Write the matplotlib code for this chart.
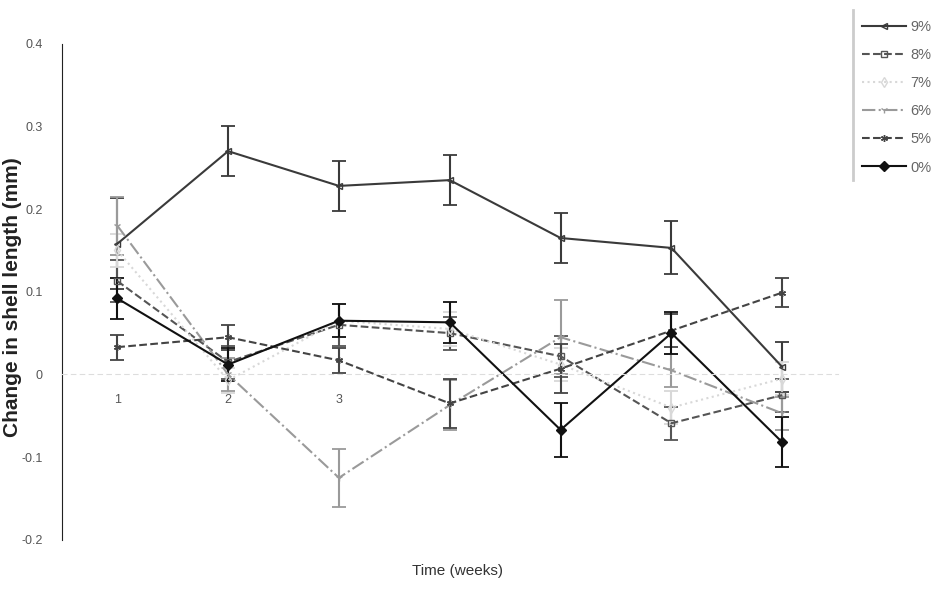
import numpy as np
import matplotlib
matplotlib.use("Agg")
from matplotlib import pyplot as plt
from matplotlib.lines import Line2D

plt.rcParams['font.family'] = ['Liberation Sans', 'DejaVu Sans']

''' Values read off the scanned chart (change in shell length, mm).'''

weeks = [1, 2, 3, 4, 5, 6, 7]
week_labels = ['1', '2', '3', '', '', '', '']

pct9 = [0.158, 0.270, 0.228, 0.235, 0.165, 0.153, 0.009]
pct9_err = [0.055, 0.030, 0.030, 0.030, 0.030, 0.032, 0.030]

pct8 = [0.113, 0.015, 0.060, 0.050, 0.022, -0.059, -0.025]
pct8_err = [0.025, 0.020, 0.025, 0.020, 0.025, 0.020, 0.020]

pct7 = [0.150, -0.007, 0.065, 0.055, 0.012, -0.040, -0.005]
pct7_err = [0.020, 0.015, 0.020, 0.020, 0.020, 0.020, 0.020]

pct6 = [0.180, 0.000, -0.125, -0.037, 0.045, 0.005, -0.047]
pct6_err = [0.035, 0.020, 0.035, 0.030, 0.045, 0.020, 0.020]

pct5 = [0.033, 0.045, 0.017, -0.035, 0.007, 0.053, 0.099]
pct5_err = [0.015, 0.015, 0.015, 0.030, 0.030, 0.020, 0.018]

pct0 = [0.092, 0.012, 0.065, 0.063, -0.067, 0.050, -0.082]
pct0_err = [0.025, 0.020, 0.020, 0.025, 0.033, 0.025, 0.030]


fig = plt.figure(figsize = (9.37, 5.9), dpi = 100)
ax = fig.add_axes([0.066, 0.085, 0.828, 0.841])

series = [
    (pct9, pct9_err, '9%', '#3a3a3a', '-', '<', 'none'),
    (pct8, pct8_err, '8%', '#555555', '--', 's', 'none'),
    (pct7, pct7_err, '7%', '#d8d8d8', ':', 'd', 'none'),
    (pct6, pct6_err, '6%', '#9a9a9a', '-.', '1', 'none'),
    (pct5, pct5_err, '5%', '#444444', '--', (6, 2, 0), 'none'),
    (pct0, pct0_err, '0%', '#111111', '-', 'D', '#111111'),
]

handles = []
for vals, err, lab, col, ls, mk, mfc in series:
    ax.errorbar(weeks, vals, yerr = err, color = col, linestyle = ls,
                linewidth = 1.5, marker = mk, markersize = 5,
                markerfacecolor = mfc, markeredgecolor = col,
                capsize = 5, elinewidth = 1.5, capthick = 1.3)
    handles.append(Line2D([], [], color = col, linestyle = ls, linewidth = 1.5,
                          marker = mk, markersize = 5, markerfacecolor = mfc,
                          markeredgecolor = col, label = lab))

ax.set_xlim(0.5, 7.5)
ax.set_ylim(-0.2, 0.4)
ax.set_yticks([-0.2, -0.1, 0, 0.1, 0.2, 0.3, 0.4])
ax.set_yticklabels(['-0.2', '-0.1', '0', '0.1', '0.2', '0.3', '0.4'])
ax.set_xticks(weeks)
ax.set_xticklabels(week_labels)

ax.spines['top'].set_visible(False)
ax.spines['right'].set_visible(False)
ax.spines['left'].set_color('#222222')
ax.spines['bottom'].set_position(('data', 0))
ax.spines['bottom'].set_color('#dddddd')
ax.spines['bottom'].set_linestyle((0, (4, 4)))
ax.tick_params(axis = 'y', length = 0, pad = 14, labelsize = 9, labelcolor = '#555555')
ax.tick_params(axis = 'x', length = 0, pad = 14, labelsize = 9, labelcolor = '#555555')

fig.text(0.013, 0.497, "Change in shell length (mm)", fontsize = 15, fontweight = 'bold',
         color = '#222222', rotation = 90, ha = 'center', va = 'center')
fig.text(0.488, 0.025, "Time (weeks)", fontsize = 11, color = '#333333', ha = 'center')

leg = fig.legend(handles = handles, loc = 'upper left', bbox_to_anchor = (856 / 937, 1 - 14 / 590),
                 frameon = False, fontsize = 10.5, handlelength = 3.0, labelspacing = 0.97,
                 handletextpad = 0.3, borderaxespad = 0)
for txt in leg.get_texts():
    txt.set_color('#666666')

fig.add_artist(Line2D([853 / 937, 853 / 937], [1 - 10 / 590, 1 - 180 / 590],
                      color = '#cccccc', linewidth = 2))

plt.savefig("out.png", dpi = 100)
